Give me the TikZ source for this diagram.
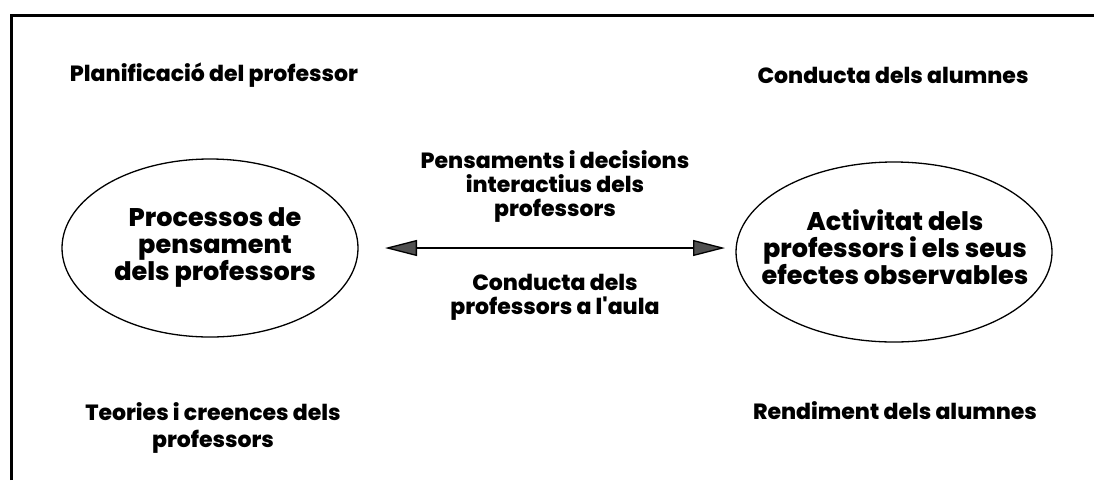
\documentclass[tikz,border=0pt]{standalone}
\usepackage{fontspec}
\newfontfamily\labelfont{Poppins ExtraBold}
\usetikzlibrary{shapes.geometric,arrows.meta}
\definecolor{tipgray}{RGB}{80,80,80}
\begin{document}
\begin{tikzpicture}[x=1pt,y=-1pt,
  lbl/.style={align=center,inner sep=0pt,font=\labelfont\fontsize{22}{24}\selectfont},
  big/.style={align=center,inner sep=0pt,font=\labelfont\fontsize{25.5}{27}\selectfont},
  oval/.style={ellipse,draw,line width=1.3pt,inner sep=0pt}]
\useasboundingbox (0,0) rectangle (1094,480);
% frame
\draw[line width=3pt] (11,480) -- (11,15) -- (1094,15);
% corner labels
\node[lbl] (plan) at (214,75) {Planificació del professor};
\node[lbl] (condA) at (893,75) {Conducta dels alumnes};
\node[lbl,font=\labelfont\fontsize{22}{27}\selectfont] (teor) at (213,428) {Teories i creences dels\\professors};
\node[lbl] (rend) at (895,411) {Rendiment dels alumnes};
% the two ovals
\node[oval,minimum width=296pt,minimum height=178pt] (L) at (210,248) {};
\node[oval,minimum width=316pt,minimum height=180pt] (R) at (894,252) {};
\node[big] (Lt) at (215,247) {Processos de\\pensament\\dels professors};
\node[big] (Rt) at (895,247) {Activitat dels\\professors i els seus\\efectes observables};
% middle labels
\node[lbl] (pens) at (555,186) {Pensaments i decisions\\interactius dels\\professors};
\node[lbl] (condP) at (555,297) {Conducta dels\\professors a l'aula};
% double arrow
\coordinate (aL) at (385,248);
\coordinate (aR) at (725,248);
\draw[line width=1.3pt,{Triangle[length=32pt,width=16pt,fill=tipgray]}-{Triangle[length=32pt,width=16pt,fill=tipgray]}] (aL) -- (aR);
\end{tikzpicture}
\end{document}
